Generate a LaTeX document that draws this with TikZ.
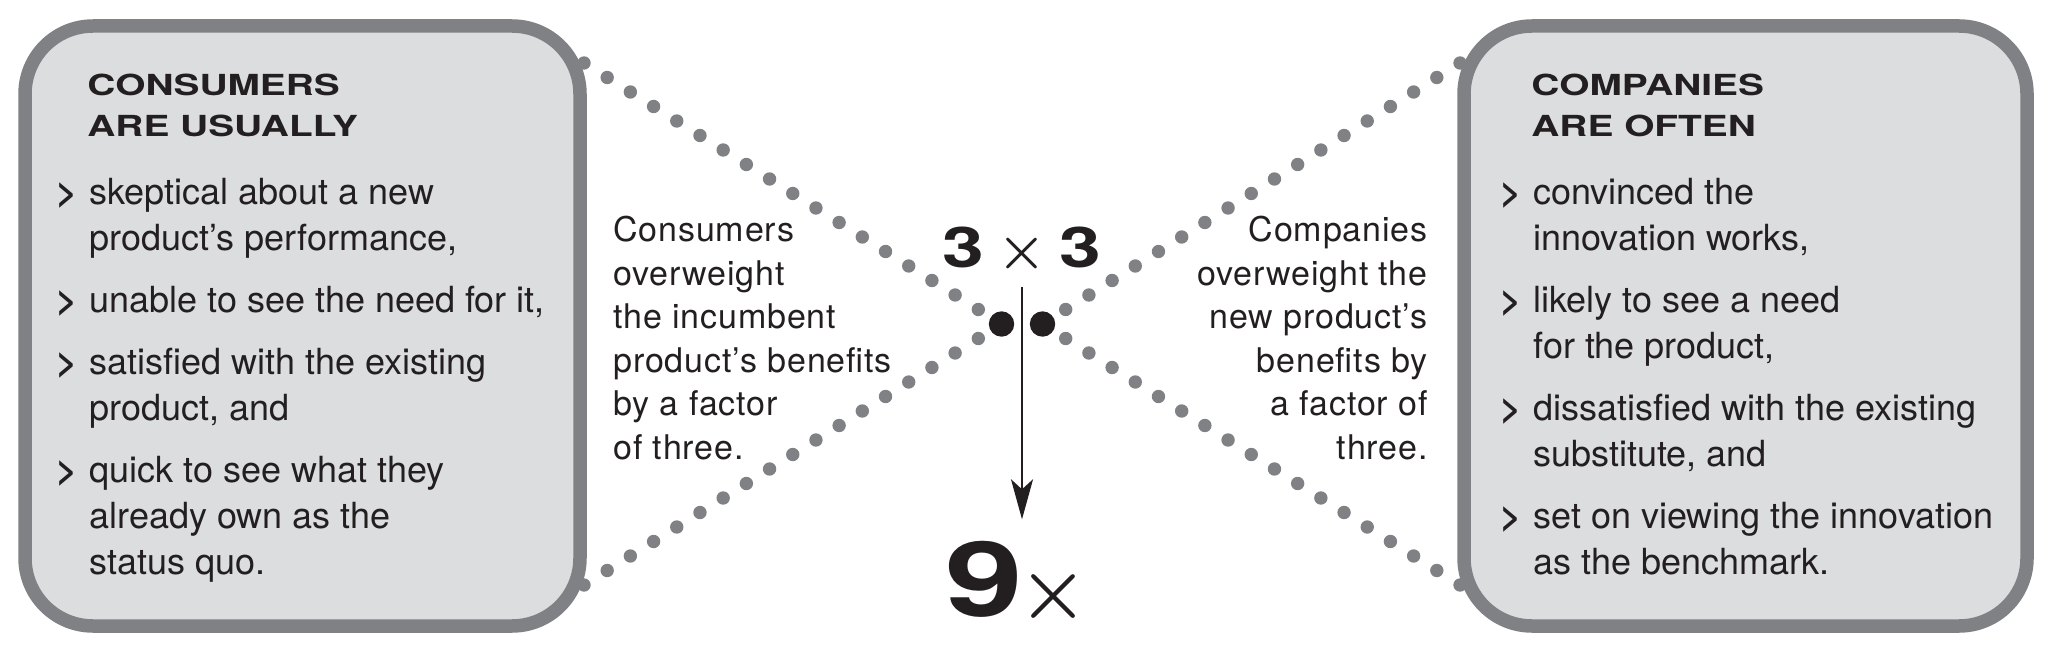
\documentclass[tikz,border=0pt]{standalone}
\usepackage{fontspec}
\setmainfont{TeX Gyre Heros}
\newfontfamily\headfont[FakeStretch=1.34]{TeX Gyre Heros}
\newfontfamily\notefont[LetterSpace=2.5]{TeX Gyre Heros}
\newfontfamily\crossfont{Latin Modern Roman}
\usetikzlibrary{arrows.meta,calc}

\definecolor{panelgray}{HTML}{808184}
\definecolor{panelfill}{HTML}{DCDDDF}
\definecolor{inkblack}{HTML}{231F20}

\newcommand{\bulletgt}{\llap{\bfseries >\hspace{6pt}}}

\tikzset{
	panel/.style={draw=panelgray, fill=panelfill, line width=6.75pt, rounded corners=34pt, minimum height=300pt, inner sep=0pt},
	heading/.style={anchor=base west, align=left, inner sep=0pt, text=inkblack, font=\headfont\bfseries\fontsize{14.5pt}{20.5pt}\selectfont},
	item/.style={anchor=base west, align=left, inner sep=0pt, text=inkblack, font=\fontsize{18pt}{23pt}\selectfont},
	note/.style={inner sep=0pt, text=inkblack, font=\notefont\fontsize{17pt}{21.75pt}\selectfont},
	graydot/.style={fill=panelgray},
	bigdot/.style={circle, fill=inkblack, inner sep=0pt, minimum size=12.7pt}
}

\begin{document}
\begin{tikzpicture}[x=0.5pt, y=-0.5pt]
	\useasboundingbox (0,0) rectangle (2054,652);

	% Рамки
	\node[panel, minimum width=277.5pt] (consbox) at (302.5,326) {};
	\node[panel, minimum width=281.5pt] (compbox) at (1745.5,326) {};

	% Точки в центре
	\node[bigdot] (ldot) at (1001.5,324) {};
	\node[bigdot] (rdot) at (1042.5,324) {};

	% Пунктир
	\coordinate (ltop) at (584,63);
	\coordinate (lbot) at (584,585);
	\coordinate (rtop) at (1460,63);
	\coordinate (rbot) at (1460,585);
	\foreach \s/\e in {ltop/ldot, lbot/ldot, rtop/rdot, rbot/rdot}
		\foreach \k in {0,...,17}
			\fill[graydot] ($(\s)!\k/18!(\e)$) circle (3.35pt);

	% 3 x 3 -> 9x
	\node[anchor=base, inner sep=9pt, text=inkblack, font=\headfont\bfseries\fontsize{28pt}{28pt}\selectfont] (prod) at (1022,267) {3\hspace{6.5pt}{\crossfont ×}\hspace{6.5pt}3};
	\node[anchor=base, inner sep=10.5pt, text=inkblack, font=\headfont\bfseries\fontsize{52pt}{52pt}\selectfont] (result) at (1017,616) {9\hspace{-2pt}{\crossfont\fontsize{40pt}{40pt}\selectfont ×}};
	\draw[line width=1pt, inkblack, -{Stealth[length=20pt, width=11pt, inset=5pt]}] (prod.south) -- (prod.south |- result.north);

	% Левая рамка (якорь base = последняя строка)
	\node[heading] (conshead) at (87,137) {CONSUMERS\\ARE USUALLY};
	\node[item] (consa) at (89,250) {\bulletgt skeptical about a new\\product’s performance,};
	\node[item] (consb) at (89,312) {\bulletgt unable to see the need for it,};
	\node[item] (consc) at (89,420) {\bulletgt satisfied with the existing\\product, and};
	\node[item] (consd) at (89,574) {\bulletgt quick to see what they\\already own as the\\status quo.};

	% Правая рамка
	\node[heading] (comphead) at (1531,137) {COMPANIES\\ARE OFTEN};
	\node[item] (compa) at (1533,250) {\bulletgt convinced the\\innovation works,};
	\node[item] (compb) at (1533,358) {\bulletgt likely to see a need\\for the product,};
	\node[item] (compc) at (1533,466) {\bulletgt dissatisfied with the existing\\substitute, and};
	\node[item] (compd) at (1533,574) {\bulletgt set on viewing the innovation\\as the benchmark.};

	% Подписи
	\node[note, anchor=base west, align=left] (consnote) at (613,459) {Consumers\\overweight\\the incumbent\\product’s benefits\\by a factor\\of three.};
	\node[note, anchor=base east, align=right] (compnote) at (1428,459) {Companies\\overweight the\\new product’s\\benefits by\\a factor of\\three.};
\end{tikzpicture}
\end{document}
